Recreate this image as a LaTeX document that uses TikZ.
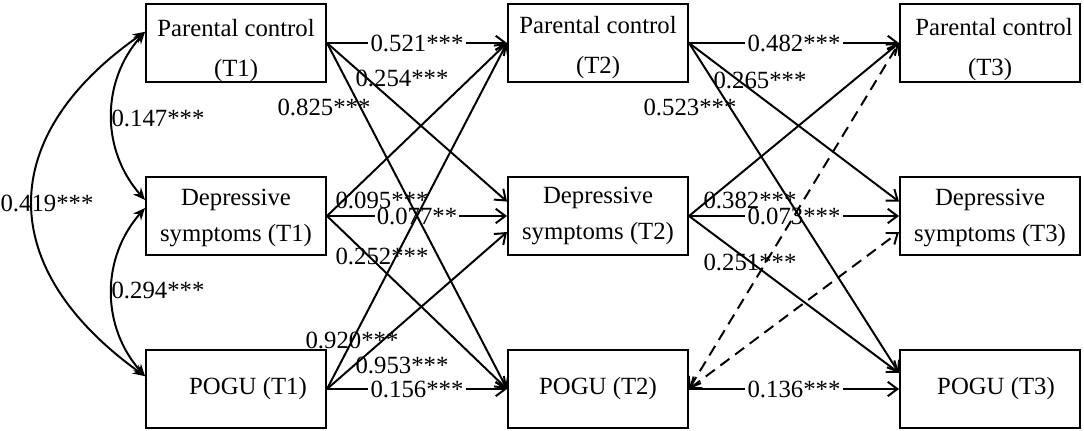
\documentclass[tikz,border=0pt]{standalone}
\usepackage{fontspec}
\setmainfont{Liberation Serif}
\usetikzlibrary{arrows.meta}

\begin{document}
\begin{tikzpicture}[x=0.025cm, y=-0.025cm, line width=1.4pt,
  font=\fontsize{17.6}{25.6}\selectfont,
  var/.style={draw, minimum width=4.5cm, minimum height=1.93cm, align=center, inner sep=0pt},
  reg/.style={->, >={Straight Barb[length=2.4mm,width=3.6mm]}},
  cross/.style={reg, <->, dash pattern=on 8pt off 5pt},
  cov/.style={<->, >={Stealth[length=3mm,width=2.6mm]}},
  lbl/.style={inner sep=1pt},
  wlbl/.style={fill=white, inner sep=1.5pt}]
\useasboundingbox (0,0) rectangle (1084,431);

% wave 1
\node[var] (pc1) at (236,43) {\rule{0pt}{0.8cm}Parental control\\[3pt](T1)};
\node[var] (dep1) at (236,216) {\rule{0pt}{0.5cm}Depressive\\symptoms (T1)};
\node[var] (pogu1) at (236,389) {\hspace*{0.6cm}POGU (T1)};
% wave 2
\node[var] (pc2) at (598,43) {\rule{0pt}{0.65cm}Parental control\\[3pt](T2)};
\node[var] (dep2) at (598,216) {\rule{0pt}{0.4cm}Depressive\\symptoms (T2)};
\node[var] (pogu2) at (598,389) {POGU (T2)};
% wave 3
\node[var] (pc3) at (990,43) {\rule{0pt}{0.75cm}\hspace*{0.2cm}Parental control\\[3pt](T3)};
\node[var] (dep3) at (990,216) {\rule{0pt}{0.5cm}Depressive\\symptoms (T3)};
\node[var] (pogu3) at (990,389) {\hspace*{0.3cm}POGU (T3)};

% correlations at T1
\draw[cov] (pc1.173) .. controls +(-44,50) and +(-44,-50) .. (dep1.170);
\draw[cov] (dep1.175) .. controls +(-44,50) and +(-44,-50) .. (pogu1.172);
\draw[cov] (pc1.173) .. controls +(-150,105) and +(-150,-108) .. (pogu1.172);
\node[lbl] (r147) at (158,118) {0.147***};
\node[lbl] (r294) at (158,290) {0.294***};
\node[lbl] (r419) at (47,203) {0.419***};

% stability paths
\draw[reg] (pc1.east) -- node[wlbl] {0.521***} (pc2.west);
\draw[reg] (dep1.east) -- node[wlbl] {0.077**} (dep2.west);
\draw[reg] (pogu1.east) -- node[wlbl] {0.156***} (pogu2.west);
\draw[reg] (pc2.east) -- node[wlbl] {0.482***} (pc3.west);
\draw[reg] (dep2.east) -- node[wlbl] {0.073***} (dep3.west);
\draw[reg] (pogu2.east) -- node[wlbl] {0.136***} (pogu3.west);

% cross-lagged paths T1 -> T2
\draw[reg] (pc1.east) -- (dep2.171);
\draw[reg] (pc1.east) -- (pogu2.west);
\draw[reg] (dep1.east) -- (pc2.west);
\draw[reg] (dep1.east) -- (pogu2.west);
\draw[reg] (pogu1.east) -- (pc2.west);
\draw[reg] (pogu1.east) -- (dep2.190);
\node[lbl] (b254) at (402,78) {0.254***};
\node[lbl] (b825) at (324,107) {0.825***};
\node[lbl] (b095) at (382,200) {0.095***};
\node[lbl] (b252) at (382,256) {0.252***};
\node[lbl] (b920) at (352,340) {0.920***};
\node[lbl] (b953) at (402,365) {0.953***};

% cross-lagged paths T2 -> T3
\draw[reg] (pc2.east) -- (dep3.171);
\draw[reg] (pc2.east) -- (pogu3.170);
\draw[reg] (dep2.east) -- (pc3.west);
\draw[reg] (dep2.east) -- (pogu3.170);
\draw[cross] (pogu2.east) -- (pc3.west);
\draw[cross] (pogu2.east) -- (dep3.190);
\node[lbl] (c265) at (760,80) {0.265***};
\node[lbl] (c523) at (690,107) {0.523***};
\node[lbl] (c382) at (750,200) {0.382***};
\node[lbl] (c251) at (750,262) {0.251***};
\end{tikzpicture}
\end{document}
